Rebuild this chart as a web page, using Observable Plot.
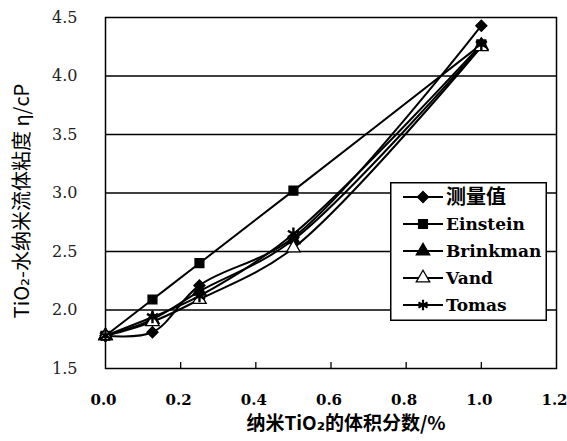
<!DOCTYPE html>
<html>
<head>
<meta charset="utf-8">
<script src="https://cdn.jsdelivr.net/npm/d3@7"></script>
<script src="https://cdn.jsdelivr.net/npm/@observablehq/plot@0.6"></script>
<style>
  html, body { margin: 0; padding: 0; background: #fff; }
  #wrap { position: relative; width: 567px; height: 441px; }
  #legend { position: absolute; left: 390px; top: 182px; }
</style>
</head>
<body>
<div id="wrap"></div>
<script>
// ---- data ----
const xValues = [0, 0.125, 0.25, 0.5, 1.0];
const seriesNames = ["测量值", "Einstein", "Brinkman", "Vand", "Tomas"];
const measured = [1.78, 1.81, 2.21, 2.62, 4.43];
const einstein = [1.78, 2.09, 2.40, 3.02, 4.27];
const brinkman = [1.78, 1.92, 2.16, 2.60, 4.26];
const vand     = [1.78, 1.90, 2.09, 2.53, 4.25];
const tomas    = [1.78, 1.94, 2.12, 2.65, 4.27];
const xTicks = [0, 0.2, 0.4, 0.6, 0.8, 1.0, 1.2];
const yTicks = [1.5, 2.0, 2.5, 3.0, 3.5, 4.0, 4.5];
const xLabel = "纳米TiO₂的体积分数/%";
const yLabel = "TiO₂-水纳米流体粘度 η/cP";

const seriesValues = [measured, einstein, brinkman, vand, tomas];
const symbols = ["diamond2", "square", "triangle", "triangle", "asterisk"];
const fills = ["black", "black", "black", "white", "none"];

const rows = [];
seriesNames.forEach((name, i) => {
  xValues.forEach((x, j) => rows.push({series: name, x, y: seriesValues[i][j]}));
});

const serifFont = "'DejaVu Serif', 'Liberation Serif', serif";
const cjkFont = "'Noto Sans CJK SC', 'DejaVu Sans', sans-serif";

const marks = [
  Plot.gridY(yTicks.slice(1, -1), {stroke: "black", strokeOpacity: 1, strokeWidth: 1.3}),
  Plot.frame({stroke: "black", strokeWidth: 1.5}),
  Plot.ruleX(xTicks.slice(1, -1), {stroke: "black", strokeWidth: 1.3, insetTop: 345}),
  Plot.axisX(xTicks, {tickSize: 0, tickPadding: 26, tickFormat: d3.format(".1f"),
    fontFamily: serifFont, fontWeight: "bold", fontSize: 15, fill: "black", label: null, dx: -2}),
  Plot.axisY(yTicks, {tickSize: 0, tickPadding: 28, tickFormat: d3.format(".1f"),
    fontFamily: serifFont, fontSize: 16, fill: "#222", label: null}),
  Plot.text([yLabel], {frameAnchor: "middle", textAnchor: "middle", rotate: -90, dx: -308, dy: 8,
    fontFamily: cjkFont, fontSize: 20, fill: "black", letterSpacing: 1}),
  Plot.text([xLabel], {frameAnchor: "bottom", textAnchor: "middle", dy: 61, dx: 15,
    fontFamily: cjkFont, fontSize: 19, fontWeight: "bold", fill: "black", letterSpacing: 1})
];

seriesNames.forEach((name, i) => {
  const data = rows.filter(d => d.series === name);
  marks.push(Plot.line(data, {x: "x", y: "y", curve: "catmull-rom", stroke: "black", strokeWidth: 2}));
});
seriesNames.forEach((name, i) => {
  const data = rows.filter(d => d.series === name);
  marks.push(Plot.dot(data, {x: "x", y: "y", symbol: () => symbols[i], r: i === 4 ? 6 : 5,
    fill: fills[i], stroke: "black", strokeWidth: i === 4 ? 2.4 : 1.3}));
});

const chart = Plot.plot({
  width: 567,
  height: 441,
  marginLeft: 105,
  marginRight: 11,
  marginTop: 17,
  marginBottom: 73,
  x: {domain: [0, 1.2], axis: null},
  y: {domain: [1.5, 4.5], axis: null},
  style: {background: "white"},
  marks
});
document.getElementById("wrap").appendChild(chart);

// ---- legend (built with d3) ----
const lw = 157, lh = 139;
const leg = d3.select("#wrap").append("svg").attr("id", "legend")
  .attr("width", lw).attr("height", lh);
leg.append("rect").attr("x", 0.75).attr("y", 0.75).attr("width", lw - 1.5).attr("height", lh - 1.5)
  .attr("fill", "white").attr("stroke", "black").attr("stroke-width", 1.5);
const symMap = {diamond2: d3.symbolDiamond2, square: d3.symbolSquare, triangle: d3.symbolTriangle, asterisk: d3.symbolAsterisk};
seriesNames.forEach((name, i) => {
  const cy = 15 + i * 27;
  const g = leg.append("g").attr("transform", `translate(0,${cy})`);
  g.append("line").attr("x1", 13).attr("x2", 53).attr("y1", 0).attr("y2", 0)
    .attr("stroke", "black").attr("stroke-width", 2);
  g.append("path").attr("transform", "translate(33,0)")
    .attr("d", d3.symbol(symMap[symbols[i]], Math.PI * 25)())
    .attr("fill", fills[i]).attr("stroke", "black").attr("stroke-width", i === 4 ? 2.2 : 1.3);
  g.append("text").attr("x", 56).attr("y", 0).attr("dy", "0.35em")
    .attr("font-family", i === 0 ? cjkFont : serifFont)
    .attr("font-weight", "bold").attr("font-size", i === 0 ? 20 : 17)
    .text(name);
});
</script>
</body>
</html>
